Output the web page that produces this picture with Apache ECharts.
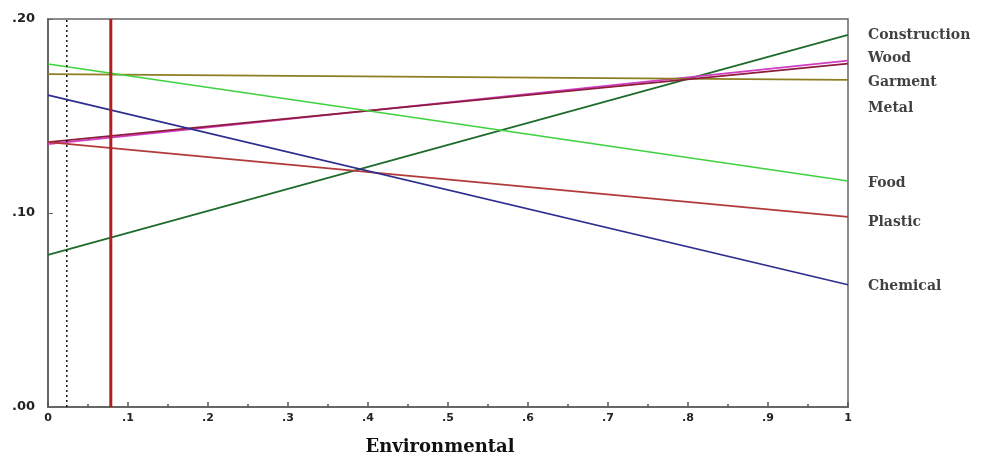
<!DOCTYPE html>
<html>
<head>
<meta charset="utf-8">
<script src="https://cdn.jsdelivr.net/npm/echarts@6/dist/echarts.min.js"></script>
<style>
html,body{margin:0;padding:0;background:#fff;}
#chart{width:984px;height:457px;}
</style>
</head>
<body>
<div id="chart"></div>
<script>
// Sensitivity lines: value at Environmental weight = 0 and = 1
const sectors = ['Construction','Wood','Garment','Metal','Food','Plastic','Chemical'];
const startValues = [0.0784, 0.1355, 0.1716, 0.1365, 0.1768, 0.1365, 0.1608];
const endValues   = [0.1918, 0.1785, 0.1686, 0.1770, 0.1165, 0.0980, 0.0630];
const labelValues = [0.1918, 0.1799, 0.1675, 0.1541, 0.1155, 0.0954, 0.0624];
const lineColors  = ['#1e6b2c','#d23cc4','#8c7d22','#8e1c3c','#3fd23f','#b23a3a','#2e2e8e'];
const xTicks = ['0','.1','.2','.3','.4','.5','.6','.7','.8','.9','1'];
const yTicks = ['.00','.10','.20'];
const currentWeight = 0.0785;
const dottedWeight = 0.0235;
const xTitle = 'Environmental';

const chart = echarts.init(document.getElementById('chart'));
const series = sectors.map((name, i) => ({
  name, type: 'line', showSymbol: false, silent: true,
  lineStyle: {color: lineColors[i], width: 1.7},
  data: [[0, startValues[i]], [1, endValues[i]]],
  z: 3
}));
series.push({
  type: 'line', showSymbol: false, silent: true,
  lineStyle: {color: '#b02020', width: 3},
  data: [[currentWeight, 0], [currentWeight, 0.2]], z: 4
});
series.push({
  type: 'line', showSymbol: false, silent: true,
  lineStyle: {color: '#111', width: 1.5, type: [2, 3]},
  data: [[dottedWeight, 0], [dottedWeight, 0.2]], z: 4
});
series.push({
  type: 'scatter', symbolSize: 0, silent: true,
  data: sectors.map((n, i) => ({value: [1, labelValues[i]], name: n})),
  label: {
    show: true, position: 'right', distance: 20,
    formatter: p => p.name,
    fontFamily: 'DejaVu Serif', fontWeight: 'bold', fontSize: 14, color: '#111'
  }
});

chart.setOption({
  animation: false,
  grid: {left: 48, right: 136, top: 19, bottom: 50, outerBoundsMode: 'none', containLabel: false,
         show: true, borderColor: '#666', borderWidth: 1.5},
  xAxis: {
    type: 'value', min: 0, max: 1, interval: 0.1,
    axisLine: {lineStyle: {color: '#666', width: 2}},
    axisTick: {show: true, length: 5, inside: true, lineStyle: {color: '#555', width: 1.5}},
    minorTick: {show: true, splitNumber: 2, length: 3, lineStyle: {color: '#555', width: 1.5}},
    splitLine: {show: false},
    axisLabel: {
      formatter: v => xTicks[Math.round(v * 10)],
      fontFamily: 'DejaVu Sans', fontWeight: 'bold', fontSize: 11, color: '#222', margin: 6
    },
    name: xTitle, nameLocation: 'middle', nameGap: 31,
    nameTextStyle: {fontFamily: 'DejaVu Serif', fontWeight: 'bold', fontSize: 18, color: '#111', padding: [0, 16, 0, 0]}
  },
  yAxis: {
    type: 'value', min: 0, max: 0.2, interval: 0.1,
    axisLine: {show: true, lineStyle: {color: '#666', width: 2}},
    axisTick: {show: true, inside: true, length: 5, lineStyle: {color: '#666'}},
    minorTick: {show: false},
    splitLine: {show: false},
    axisLabel: {
      formatter: v => yTicks[Math.round(v * 10)],
      fontFamily: 'DejaVu Sans', fontWeight: 'bold', fontSize: 13, color: '#222', margin: 13
    }
  },
  series
});
</script>
</body>
</html>
